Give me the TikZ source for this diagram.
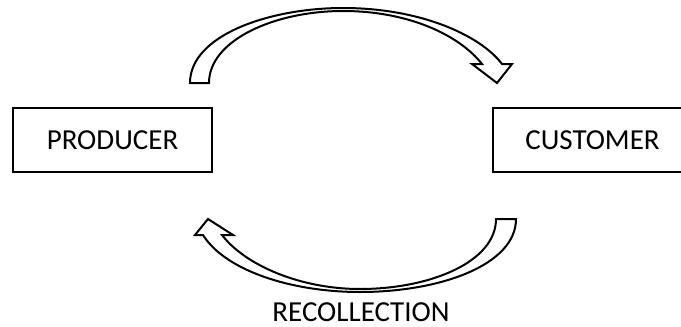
\documentclass[tikz,border=0pt]{standalone}
\usepackage{fontspec}
\setmainfont{Carlito}
\usepackage{tikz}
\usetikzlibrary{positioning}

\begin{document}
\begin{tikzpicture}[
        x=1pt, y=-1pt,
        party/.style={rectangle, draw=black, line width=2pt, minimum width=199pt, minimum height=64pt, align=center, font=\fontsize{29}{34}\selectfont},
        caption/.style={inner sep=0pt, text depth=0pt, font=\fontsize{29}{34}\selectfont},
        blockarrow/.style={draw=black, line width=2pt, fill=white, line join=miter}
    ]
    \clip (0,0) rectangle (681,327);

    % Parties
    \node[party] (producer) at (112.5,140) {PRODUCER};
    \node[party] (customer) at (592.5,140) {CUSTOMER};

    % Upper block arrow: producer to customer
    \draw[blockarrow] (190,83) .. controls (190,35) and (270,8) .. (343,8)
        .. controls (420,8) and (480,35) .. (502,64) -- (512,64) -- (497,83) -- (472,64) -- (482,64)
        .. controls (460,36) and (410,11) .. (343,11)
        .. controls (275,11) and (209,40) .. (209,83) -- cycle;

    % Lower block arrow: customer back to producer
    \draw[blockarrow] (516,219) .. controls (516,265) and (440,292) .. (360,292)
        .. controls (290,292) and (225,270) .. (203,235) -- (195,235) -- (208,219) -- (233,235) -- (222,235)
        .. controls (245,265) and (300,289) .. (360,289)
        .. controls (430,289) and (496,262) .. (496,219) -- cycle;

    % Label
    \node[caption, anchor=base] (recollection) at (361,321) {RECOLLECTION};
\end{tikzpicture}
\end{document}
